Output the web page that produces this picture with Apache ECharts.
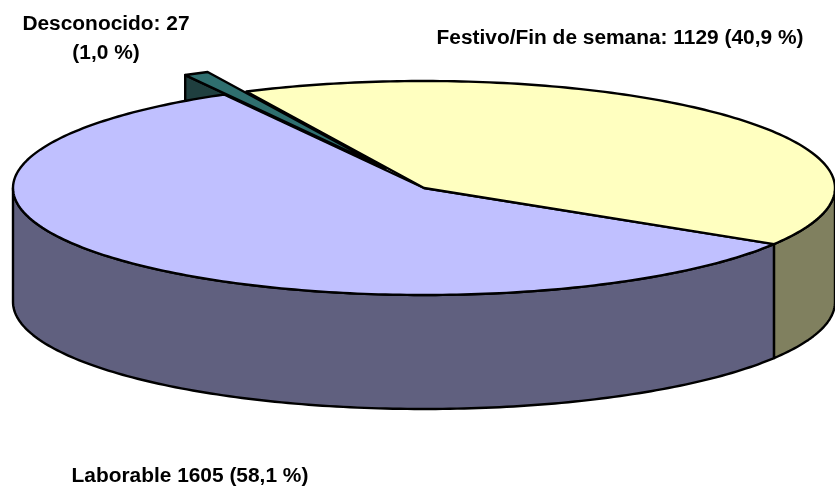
<!DOCTYPE html>
<html>
<head>
<meta charset="utf-8">
<title>Laborable / Festivo</title>
<script src="https://cdn.jsdelivr.net/npm/echarts@6/dist/echarts.min.js"></script>
<style>
  html, body { margin: 0; padding: 0; background: #fff; }
  #main { width: 835px; height: 489px; }
</style>
</head>
<body>
<div id="main"></div>
<script>
// datos, en sentido horario
const categories = ['Laborable', 'Desconocido', 'Festivo/Fin de semana'];
const values = [1605, 27, 1129];
const labelLines = [
  ['Laborable 1605 (58,1 %)'],
  ['Desconocido: 27', '(1,0 %)'],
  ['Festivo/Fin de semana: 1129 (40,9 %)']
];
const topColors = ['#C0C0FF', '#2F6F6F', '#FFFFC0'];
const wallColors = ['#60607F', '#1F3F3F', '#80805F'];
const explode = [0, 0.205, 0];

// geometria del disco
const cx = 424, cy = 188, rx = 411, ry = 107, depth = 114;
const startAngle = 31.6;
const labelPos = [[71.5, 476.5, 'left'], [106, 39, 'center'], [620, 38.5, 'center']];

const total = values.reduce((a, b) => a + b, 0);
let acc = startAngle;
const slices = values.map((v, i) => {
  const from = acc;
  acc += v / total * 360;
  const mid = (from + acc) / 2 * Math.PI / 180;
  return {
    from, to: acc, i,
    ox: explode[i] * rx * Math.cos(mid),
    oy: explode[i] * ry * Math.sin(mid)
  };
});

function rim(s, deg, dy) {
  const t = deg * Math.PI / 180;
  return [cx + s.ox + rx * Math.cos(t), cy + s.oy + ry * Math.sin(t) + (dy || 0)];
}
function arc(s, a, b, dy) {
  const pts = [];
  const n = Math.max(2, Math.ceil(Math.abs(b - a)));
  for (let k = 0; k <= n; k++) pts.push(rim(s, a + (b - a) * k / n, dy));
  return pts;
}

const stroke = { stroke: '#000', lineWidth: 2.4, lineJoin: 'round' };

// caras laterales
function renderWalls(params, api) {
  const s = slices[api.value(0)];
  const children = [];
  const style = Object.assign({ fill: wallColors[s.i] }, stroke);
  // parte visible del borde exterior, mitad delantera
  const a = Math.max(s.from, 0), b = Math.min(s.to, 180);
  if (b > a) {
    const outer = arc(s, a, b, 0).concat(arc(s, b, a, depth));
    children.push({ type: 'polygon', shape: { points: outer }, style });
  }
  const a2 = Math.max(s.from - 360, 0), b2 = Math.min(s.to - 360, 180);
  if (b2 > a2) {
    const outer2 = arc(s, a2, b2, 0).concat(arc(s, b2, a2, depth));
    children.push({ type: 'polygon', shape: { points: outer2 }, style });
  }
  // corte radial de la porcion separada
  if (explode[s.i] > 0) {
    const p = rim(s, s.from);
    const apex = [cx + s.ox, cy + s.oy];
    children.push({
      type: 'polygon',
      shape: { points: [apex, p, [p[0], p[1] + depth], [apex[0], apex[1] + depth]] },
      style
    });
  }
  return { type: 'group', children };
}

// tapa superior
function renderTop(params, api) {
  const s = slices[api.value(0)];
  const pts = [[cx + s.ox, cy + s.oy]].concat(arc(s, s.from, s.to));
  return {
    type: 'polygon',
    shape: { points: pts },
    style: Object.assign({ fill: topColors[s.i] }, stroke)
  };
}

const plain = slices.filter(s => !explode[s.i]).map(s => [s.i]);
const pulled = slices.filter(s => explode[s.i]).map(s => [s.i]);

const chart = echarts.init(document.getElementById('main'), null, { renderer: 'canvas' });
chart.setOption({
  animation: false,
  backgroundColor: '#fff',
  graphic: labelLines.map((lines, i) => ({
    type: 'text',
    x: labelPos[i][0],
    y: labelPos[i][1],
    z: 10,
    style: {
      text: lines.join('\n'),
      fill: '#000',
      fontFamily: '"Liberation Sans", Arial, sans-serif',
      fontWeight: 'bold',
      fontSize: 20.9,
      lineHeight: 29,
      align: labelPos[i][2],
      verticalAlign: 'middle'
    }
  })),
  series: [
    { type: 'custom', name: 'caras', coordinateSystem: 'none', z: 1, silent: true,
      renderItem: renderWalls, data: pulled.concat(plain) },
    { type: 'custom', name: 'tapas', coordinateSystem: 'none', z: 2, silent: true,
      renderItem: renderTop, data: plain },
    { type: 'custom', name: categories[1], coordinateSystem: 'none', z: 3, silent: true,
      renderItem: renderTop, data: pulled }
  ]
});
</script>
</body>
</html>
